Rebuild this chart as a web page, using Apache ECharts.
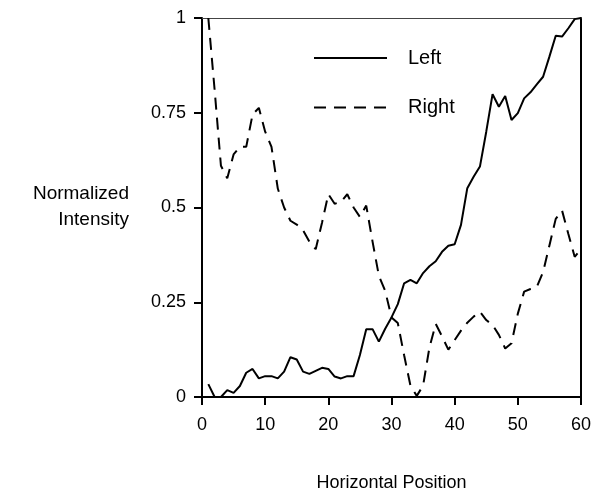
<!DOCTYPE html>
<html>
<head>
<meta charset="utf-8">
<script src="https://cdn.jsdelivr.net/npm/echarts@6/dist/echarts.min.js"></script>
<style>
  html, body { margin: 0; padding: 0; background: #fff; }
  #chart { width: 592px; height: 493px; }
</style>
</head>
<body>
<div id="chart"></div>
<script>
const positions = [1, 2, 3, 4, 5, 6, 7, 8, 9, 10, 11, 12, 13, 14, 15, 16, 17, 18, 19, 20,
  21, 22, 23, 24, 25, 26, 27, 28, 29, 30, 31, 32, 33, 34, 35, 36, 37, 38, 39, 40,
  41, 42, 43, 44, 45, 46, 47, 48, 49, 50, 51, 52, 53, 54, 55, 56, 57, 58, 59, 60];

const leftValues = [0.034, 0.0, 0.0, 0.018, 0.011, 0.029, 0.064, 0.074, 0.049, 0.055,
  0.055, 0.049, 0.067, 0.105, 0.099, 0.067, 0.061, 0.069, 0.077, 0.074,
  0.054, 0.049, 0.055, 0.055, 0.111, 0.179, 0.179, 0.146, 0.18, 0.21,
  0.245, 0.30, 0.309, 0.30, 0.327, 0.345, 0.358, 0.383, 0.399, 0.403,
  0.454, 0.551, 0.581, 0.608, 0.70, 0.799, 0.766, 0.794, 0.731, 0.749,
  0.788, 0.804, 0.825, 0.845, 0.898, 0.953, 0.951, 0.973, 0.997, 1.0];

const rightValues = [1.0, 0.81, 0.61, 0.577, 0.64, 0.66, 0.66, 0.745, 0.763, 0.70,
  0.66, 0.55, 0.50, 0.465, 0.455, 0.44, 0.41, 0.39, 0.46, 0.535,
  0.51, 0.515, 0.535, 0.50, 0.475, 0.505, 0.41, 0.32, 0.28, 0.21,
  0.195, 0.11, 0.03, 0.003, 0.03, 0.13, 0.193, 0.16, 0.125, 0.15,
  0.175, 0.196, 0.212, 0.225, 0.203, 0.19, 0.164, 0.128, 0.142, 0.22,
  0.278, 0.285, 0.29, 0.33, 0.40, 0.47, 0.492, 0.43, 0.37, 0.39];

const yTicks = [0, 0.25, 0.5, 0.75, 1];
const xTicks = [0, 10, 20, 30, 40, 50, 60];

const font = 'Liberation Sans, Arial, sans-serif';

const chart = echarts.init(document.getElementById('chart'), null, { renderer: 'canvas' });

const pairs = vals => positions.map((x, i) => [x, vals[i]]);

const option = {
  animation: false,
  backgroundColor: '#fff',
  textStyle: { fontFamily: font },
  grid: { left: 202, right: 11, top: 18, bottom: 96, outerBoundsMode: 'none', containLabel: false },
  legend: {
    orient: 'vertical',
    left: 313,
    top: 48,
    padding: 0,
    itemWidth: 73,
    itemHeight: 20,
    itemGap: 29.5,
    itemStyle: { color: 'rgba(0,0,0,0)', borderWidth: 0 },
    textStyle: { fontSize: 20, lineHeight: 20, color: '#000', fontFamily: font, padding: [0, 0, 0, 16] },
    data: ['Left', 'Right']
  },
  xAxis: [
    {
      type: 'value',
      min: 0, max: 60, interval: 10,
      position: 'bottom',
      name: 'Horizontal Position',
      nameLocation: 'middle',
      nameGap: 77,
      nameTextStyle: { fontSize: 18, color: '#000', fontFamily: font },
      axisLine: { show: true, onZero: false, lineStyle: { color: '#000', width: 2 } },
      axisTick: { show: true, length: 8, lineStyle: { color: '#000', width: 2 },
        customValues: xTicks },
      axisLabel: { fontSize: 18, color: '#000', margin: 19, fontFamily: font,
        customValues: xTicks },
      splitLine: { show: false }
    },
    {
      type: 'value',
      min: 0, max: 60,
      position: 'top',
      axisLine: { show: true, onZero: false, lineStyle: { color: '#444', width: 1 } },
      axisTick: { show: false },
      axisLabel: { show: false },
      splitLine: { show: false }
    }
  ],
  yAxis: [
    {
      type: 'value',
      min: 0, max: 1, interval: 0.25,
      position: 'left',
      axisLine: { show: true, onZero: false, lineStyle: { color: '#000', width: 2 } },
      axisTick: { show: true, length: 8, lineStyle: { color: '#000', width: 2 },
        customValues: yTicks },
      axisLabel: { fontSize: 18, color: '#000', margin: 16, fontFamily: font,
        customValues: yTicks },
      splitLine: { show: false }
    },
    {
      type: 'value',
      min: 0, max: 1,
      position: 'right',
      axisLine: { show: true, onZero: false, lineStyle: { color: '#000', width: 2 } },
      axisTick: { show: false },
      axisLabel: { show: false },
      splitLine: { show: false }
    }
  ],
  graphic: [
    {
      type: 'text',
      x: 129,
      y: 181,
      style: {
        text: 'Normalized\nIntensity',
        textAlign: 'right',
        fontSize: 19,
        lineHeight: 26,
        fontFamily: font,
        fill: '#000'
      }
    }
  ],
  series: [
    {
      name: 'Left',
      type: 'line',
      xAxisIndex: 0, yAxisIndex: 0,
      symbol: 'none',
      lineStyle: { color: '#000', width: 2 },
      itemStyle: { color: '#000' },
      data: pairs(leftValues)
    },
    {
      name: 'Right',
      type: 'line',
      xAxisIndex: 0, yAxisIndex: 0,
      symbol: 'none',
      lineStyle: { color: '#000', width: 2, type: [12, 8] },
      itemStyle: { color: '#000' },
      data: pairs(rightValues)
    }
  ]
};

chart.setOption(option);
</script>
</body>
</html>
